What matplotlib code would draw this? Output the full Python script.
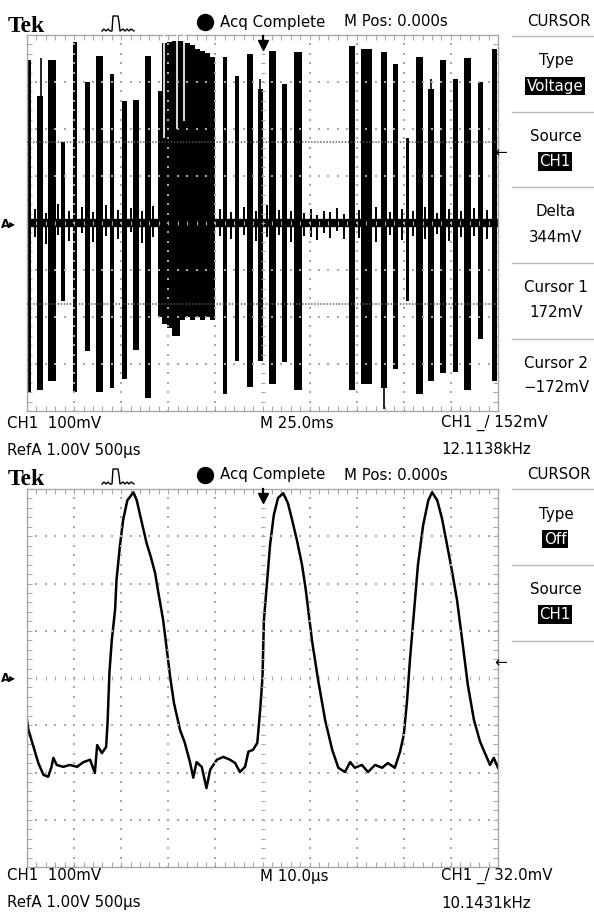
import numpy as np
import matplotlib.pyplot as plt
from matplotlib.lines import Line2D

plt.rcParams['font.family'] = ['DejaVu Sans']
plt.rcParams['lines.scale_dashes'] = False

W, H = 594, 916

# ---- upper screen: CH1 burst, 25.0 ms/div, 100 mV/div ----
pulse_t = [-124.2, -118.1, -111.7, -105.9, -99.5, -92.9, -86.5, -79.9, -73.3, -67.1, -60.8,
           -19.9, -13.5, -6.6, -1.1, 5.3, 11.7, 18.8,
           47.5, 55.2, 64.5, 70.6, 77.0, 83.3, 89.4, 95.8, 102.4, 108.8, 115.7, 123.1]
pulse_w = [2.7, 3.2, 4.2, 2.1, 2.1, 2.7, 3.7, 2.1, 2.7, 3.2, 3.2,
           2.1, 2.1, 3.2, 2.7, 3.7, 2.7, 4.2,
           3.2, 5.8, 3.2, 2.7, 1.6, 3.7, 3.2, 3.2, 2.7, 3.7, 2.7, 2.7]
pulse_hi = [346, 271, 346, 173, 386, 301, 356, 318, 259, 261, 356,
            354, 312, 359, 286, 367, 295, 363,
            376, 371, 363, 339, 180, 354, 286, 346, 307, 352, 301, 371]
pulse_lo = [-359, -356, -337, -167, -359, -273, -359, -352, -331, -271, -373,
            -363, -293, -348, -293, -342, -295, -356,
            -356, -342, -352, -310, -167, -363, -337, -320, -316, -356, -246, -337]

# dense part of the burst
block_t = [-55.5, -53.3, -50.7, -48.0, -43.8, -41.1, -38.5, -35.8, -33.2, -30.5, -27.9, -25.2]
block_hi = [280, 382, 386, 388, 388, 382, 378, 371, 367, 361, 354, 350]
block_lo = [-199, -214, -224, -241, -207, -199, -207, -199, -207, -199, -207, -207]
gap_t = [-52.2, -45.4, -41.9]
gap_lo = [180, 201, 216]

spike_t = [-117.6, -1.1, 64.5, 89.4]
spike_lo = [271, 286, -395, 286]
spike_hi = [350, 307, -352, 307]

noise_t = [-121, -115, -108.5, -102.5, -96, -90, -83, -76.5, -70, -64, -58,
           -22.5, -16.5, -10, -3.5, 2.5, 8.5, 15, 22, 25.5, 29, 32.5, 36, 39.5, 43,
           51, 60, 67.5, 74, 80, 86.5, 92.5, 99, 105.5, 112, 119]
noise_lo = [-30, -45, -25, -38, -22, -40, -28, -35, -20, -42, -30,
            -28, -35, -25, -38, -30, -26, -40, -28, -30, -36, -22, -32, -18, -34,
            -32, -40, -25, -36, -28, -33, -24, -38, -30, -27, -35]
noise_hi = [30, 22, 40, 26, 35, 24, 38, 28, 32, 25, 36,
            30, 24, 34, 26, 38, 28, 25, 22, 30, 18, 26, 24, 32, 20,
            28, 35, 24, 30, 26, 34, 22, 30, 25, 32, 28]
cursor_mv = [172, -172]

# ---- lower screen: CH1, 10.0 us/div, 100 mV/div ----
wave_t = [-50.2, -49.7, -48.6, -47.6, -46.5, -45.5, -44.8, -44.4, -43.7, -42.3,
          -40.9, -39.4, -38.0, -36.6, -35.6, -35.1, -34.1, -33.2, -32.9, -32.5,
          -32.0, -31.3, -31.0, -30.3, -29.6, -28.7, -27.4, -26.7, -25.6, -24.6,
          -23.7, -22.8, -22.1, -21.1, -20.3, -19.6, -18.8, -17.5, -16.5, -15.4,
          -14.7, -14.0, -12.9, -11.9, -11.1, -9.7, -8.3, -6.9, -5.8, -4.8,
          -3.7, -3.0, -2.0, -1.1, -0.5, 0.0, 0.3, 1.0, 1.6, 2.4,
          3.3, 4.4, 5.4, 6.3, 7.3, 8.4, 9.2, 10.5, 11.8, 13.3,
          14.8, 16.1, 17.5, 18.6, 19.6, 21.1, 22.4, 23.9, 25.4, 26.6,
          28.1, 29.2, 30.0, 30.7, 31.3, 32.2, 33.0, 34.1, 35.2, 36.0,
          37.1, 38.1, 39.2, 40.2, 41.3, 42.4, 43.6, 44.9, 46.2, 47.4,
          48.3, 49.1, 50.0]
wave_v = [-74, -110, -146, -180, -205, -209, -188, -169, -184, -188,
          -184, -188, -178, -173, -201, -142, -159, -146, -95, 11,
          80, 144, 207, 277, 334, 376, 393, 376, 328, 285,
          256, 222, 180, 123, 59, 2, -53, -110, -137, -178,
          -211, -178, -188, -233, -194, -173, -167, -173, -180, -199,
          -188, -156, -152, -137, -68, 2, 123, 207, 281, 345,
          381, 391, 370, 334, 292, 239, 186, 80, -4, -89,
          -152, -190, -199, -178, -190, -184, -199, -184, -190, -180,
          -190, -156, -120, -47, 38, 144, 239, 323, 376, 393,
          376, 338, 281, 228, 165, 80, -15, -89, -135, -163,
          -184, -169, -190]

top_menu = [("Type", "Voltage", True), ("Source", "CH1", True), ("Delta", "344mV", False),
            ("Cursor 1", "172mV", False), ("Cursor 2", "\u2212172mV", False)]
bot_menu = [("Type", "Off", True), ("Source", "CH1", True)]

FS = 10.8
GRID = '#a8a8a8'

fig = plt.figure(figsize=(W / 100, H / 100), dpi=100)


def px(x, y):
    return x / W, 1 - y / H


def fig_line(xs, ys, **kw):
    fig.add_artist(Line2D([x / W for x in xs], [1 - y / H for y in ys],
                          transform=fig.transFigure, **kw))


def graticule(ax, xdiv, ydiv):
    ax.set_xlim(-5 * xdiv, 5 * xdiv)
    ax.set_ylim(-4 * ydiv, 4 * ydiv)
    fx = np.arange(-25, 26) * xdiv / 5
    fy = np.arange(-20, 21) * ydiv / 5
    for k in range(-4, 5):
        if k != 0:
            ax.scatter(np.full(fy.size, k * xdiv), fy, s=1.6, marker='s', c=GRID, lw=0, zorder=5)
    for j in range(-3, 4):
        if j != 0:
            ax.scatter(fx, np.full(fx.size, j * ydiv), s=1.6, marker='s', c=GRID, lw=0, zorder=5)
    ax.scatter(fx, np.zeros(fx.size), s=9, marker='|', c=GRID, lw=0.8, zorder=5)
    ax.scatter(np.zeros(fy.size), fy, s=9, marker='_', c=GRID, lw=0.8, zorder=5)
    ax.set_xticks(fx[1:-1])
    ax.set_yticks(fy[1:-1])
    ax.tick_params(direction='in', length=3.5, width=0.8, color=GRID,
                   top=True, right=True, labelbottom=False, labelleft=False)
    for sp in ax.spines.values():
        sp.set_color(GRID)
        sp.set_linewidth(1.0)


def header(y0, menu, status):
    fig.text(*px(8, y0 + 32), "Tek", family='Liberation Serif', weight='bold',
             fontsize=17, va='baseline')
    fig_line([102, 104, 106, 108, 110, 112, 113, 118, 119, 120, 123, 125, 127, 129, 131, 134],
             [y0 + v for v in [31, 29, 31, 29, 31, 31, 16, 16, 22, 31, 29, 31, 29, 31, 29, 31]],
             color='black', lw=1.0)
    fig_line([205], [y0 + 22], marker='o', ms=11.5, color='black', lw=0)
    fig.text(*px(220, y0 + 22), "Acq Complete", fontsize=FS, va='center')
    fig.text(*px(344, y0 + 22), "M Pos: 0.000s", fontsize=FS, va='center')
    fig.text(*px(559, y0 + 21), "CURSOR", fontsize=FS, va='center', ha='center')
    fig_line([512, 594], [y0 + 36, y0 + 36], color='#bbbbbb', lw=1)
    for i, (lab, val, inv) in enumerate(menu):
        yc = y0 + 61 + 75.5 * i
        fig.text(*px(556, yc), lab, fontsize=FS, va='center', ha='center')
        if inv:
            fig.text(*px(555, yc + 25), val, fontsize=FS, va='center', ha='center', color='white',
                     bbox=dict(boxstyle='square,pad=0.12', fc='black', ec='none'))
        else:
            fig.text(*px(556, yc + 25), val, fontsize=FS, va='center', ha='center')
        if i < 4:
            ys = y0 + 112 + 75.5 * i
            fig_line([512, 594], [ys, ys], color='#bbbbbb', lw=1)
    fig.text(*px(7, y0 + 423), "CH1  100mV", fontsize=FS, va='center')
    fig.text(*px(260, y0 + 423), status[0], fontsize=FS, va='center')
    fig.text(*px(441, y0 + 423), status[1], fontsize=FS, va='center')
    fig.text(*px(7, y0 + 450), "RefA 1.00V 500\u00b5s", fontsize=FS, va='center')
    fig.text(*px(441, y0 + 450), status[2], fontsize=FS, va='center')
    # trigger position marker
    fig_line([263, 263], [y0 + 36, y0 + 44], color='black', lw=1.6)
    fig_line([263], [y0 + 45], marker='v', ms=7, color='black', lw=0)


def side_marks(y_ref, y_trig):
    fig.text(*px(1, y_ref), "A\u25b8", fontsize=8.5, weight='bold', va='center')
    fig.text(*px(494, y_trig), "\u2190", fontsize=11, va='center')


# upper screen
ax1 = fig.add_axes([27 / W, 1 - 411 / H, 471 / W, 376 / H])
ax1.axhline(0, color='black', lw=6.0, zorder=2)
ax1.bar(pulse_t, np.subtract(pulse_hi, pulse_lo), bottom=pulse_lo, width=pulse_w,
        color='black', lw=0, zorder=2)
ax1.fill_between(block_t, block_lo, block_hi, step='post', color='black', lw=0, zorder=2)
ax1.vlines(gap_t, gap_lo, 400, color='white', lw=1.2, zorder=3)
ax1.vlines(spike_t, spike_lo, spike_hi, color='black', lw=1.2, zorder=2)
ax1.vlines(noise_t, noise_lo, noise_hi, color='black', lw=1.4, zorder=2)
for c in cursor_mv:
    ax1.axhline(c, color='#555555', lw=1.1, ls=(0, (1.0, 1.2)), zorder=6)
graticule(ax1, 25, 100)
header(0, top_menu, ["M 25.0ms", "CH1 _/ 152mV", "12.1138kHz"])
side_marks(225, 153)

# lower screen
ax2 = fig.add_axes([27 / W, 1 - 867 / H, 471 / W, 378 / H])
ax2.plot(wave_t, wave_v, color='black', lw=1.8, zorder=2)
graticule(ax2, 10, 100)
header(453, bot_menu, ["M 10.0\u00b5s", "CH1 _/ 32.0mV", "10.1431kHz"])
side_marks(678, 663)

fig.savefig("out.png", dpi=100)
